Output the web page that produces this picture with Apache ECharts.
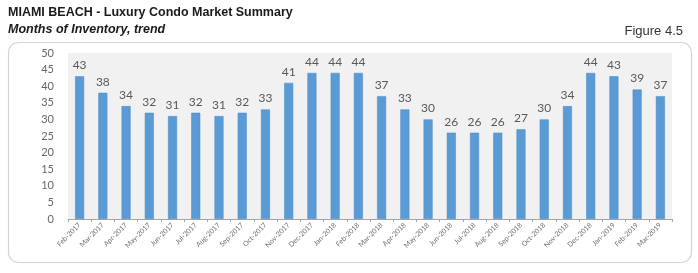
<!DOCTYPE html>
<html><head><meta charset="utf-8">
<script src="https://cdn.jsdelivr.net/npm/echarts@6/dist/echarts.min.js"></script>
<style>html,body{margin:0;padding:0;background:#fff}#c{width:698px;height:273px}</style>
</head><body><div id="c"></div>
<script>
const categories = ["Feb-2017","Mar-2017","Apr-2017","May-2017","Jun-2017","Jul-2017","Aug-2017","Sep-2017","Oct-2017","Nov-2017","Dec-2017","Jan-2018","Feb-2018","Mar-2018","Apr-2018","May-2018","Jun-2018","Jul-2018","Aug-2018","Sep-2018","Oct-2018","Nov-2018","Dec-2018","Jan-2019","Feb-2019","Mar-2019"];
const months = [43,38,34,32,31,32,31,32,33,41,44,44,44,37,33,30,26,26,26,27,30,34,44,43,39,37];
const yTicks = [0,5,10,15,20,25,30,35,40,45,50];

const chart = echarts.init(document.getElementById('c'), null, {renderer:'canvas'});
chart.setOption({
  animation:false,
  graphic:[
    {type:'rect', z:-10, shape:{x:8.5,y:42.5,width:683,height:220,r:10}, style:{fill:'#fff',stroke:'#d4d4d4',lineWidth:1.2}},
    {type:'text', left:8, top:6, style:{text:'MIAMI BEACH - Luxury Condo Market Summary', font:'bold 12.5px "Liberation Sans", Arial', fill:'#1a1a1a'}},
    {type:'text', left:8, top:23, style:{text:'Months of Inventory, trend', font:'italic bold 12.5px "Liberation Sans", Arial', fill:'#1a1a1a'}},
    {type:'text', right:15, top:25, style:{text:'Figure 4.5', font:'13px "Liberation Sans", Arial', fill:'#333'}}
  ],
  grid:{left:68, right:26, top:53, bottom:54, show:true, backgroundColor:'#f1f1f1', borderWidth:0},
  xAxis:{type:'category', data:categories,
    axisLine:{lineStyle:{color:'#a6a6a6'}},
    axisTick:{show:true, lineStyle:{color:'#a6a6a6'}, length:3},
    axisLabel:{rotate:45, fontSize:7, color:'#707070', fontFamily:'Lato', margin:5, interval:0}},
  yAxis:{type:'value', min:yTicks[0], max:yTicks[yTicks.length-1], interval:5,
    axisLine:{show:false}, axisTick:{show:false}, splitLine:{show:false},
    axisLabel:{fontSize:11, color:'#666', fontFamily:'Lato', margin:14}},
  series:[{type:'bar', data:months, barWidth:9,
    itemStyle:{color:'#5b9bd5', borderColor:'#4a88c6', borderWidth:0.5},
    label:{show:true, position:'top', fontSize:12, color:'#595959', fontFamily:'Lato', distance:5}}]
});
</script></body></html>
